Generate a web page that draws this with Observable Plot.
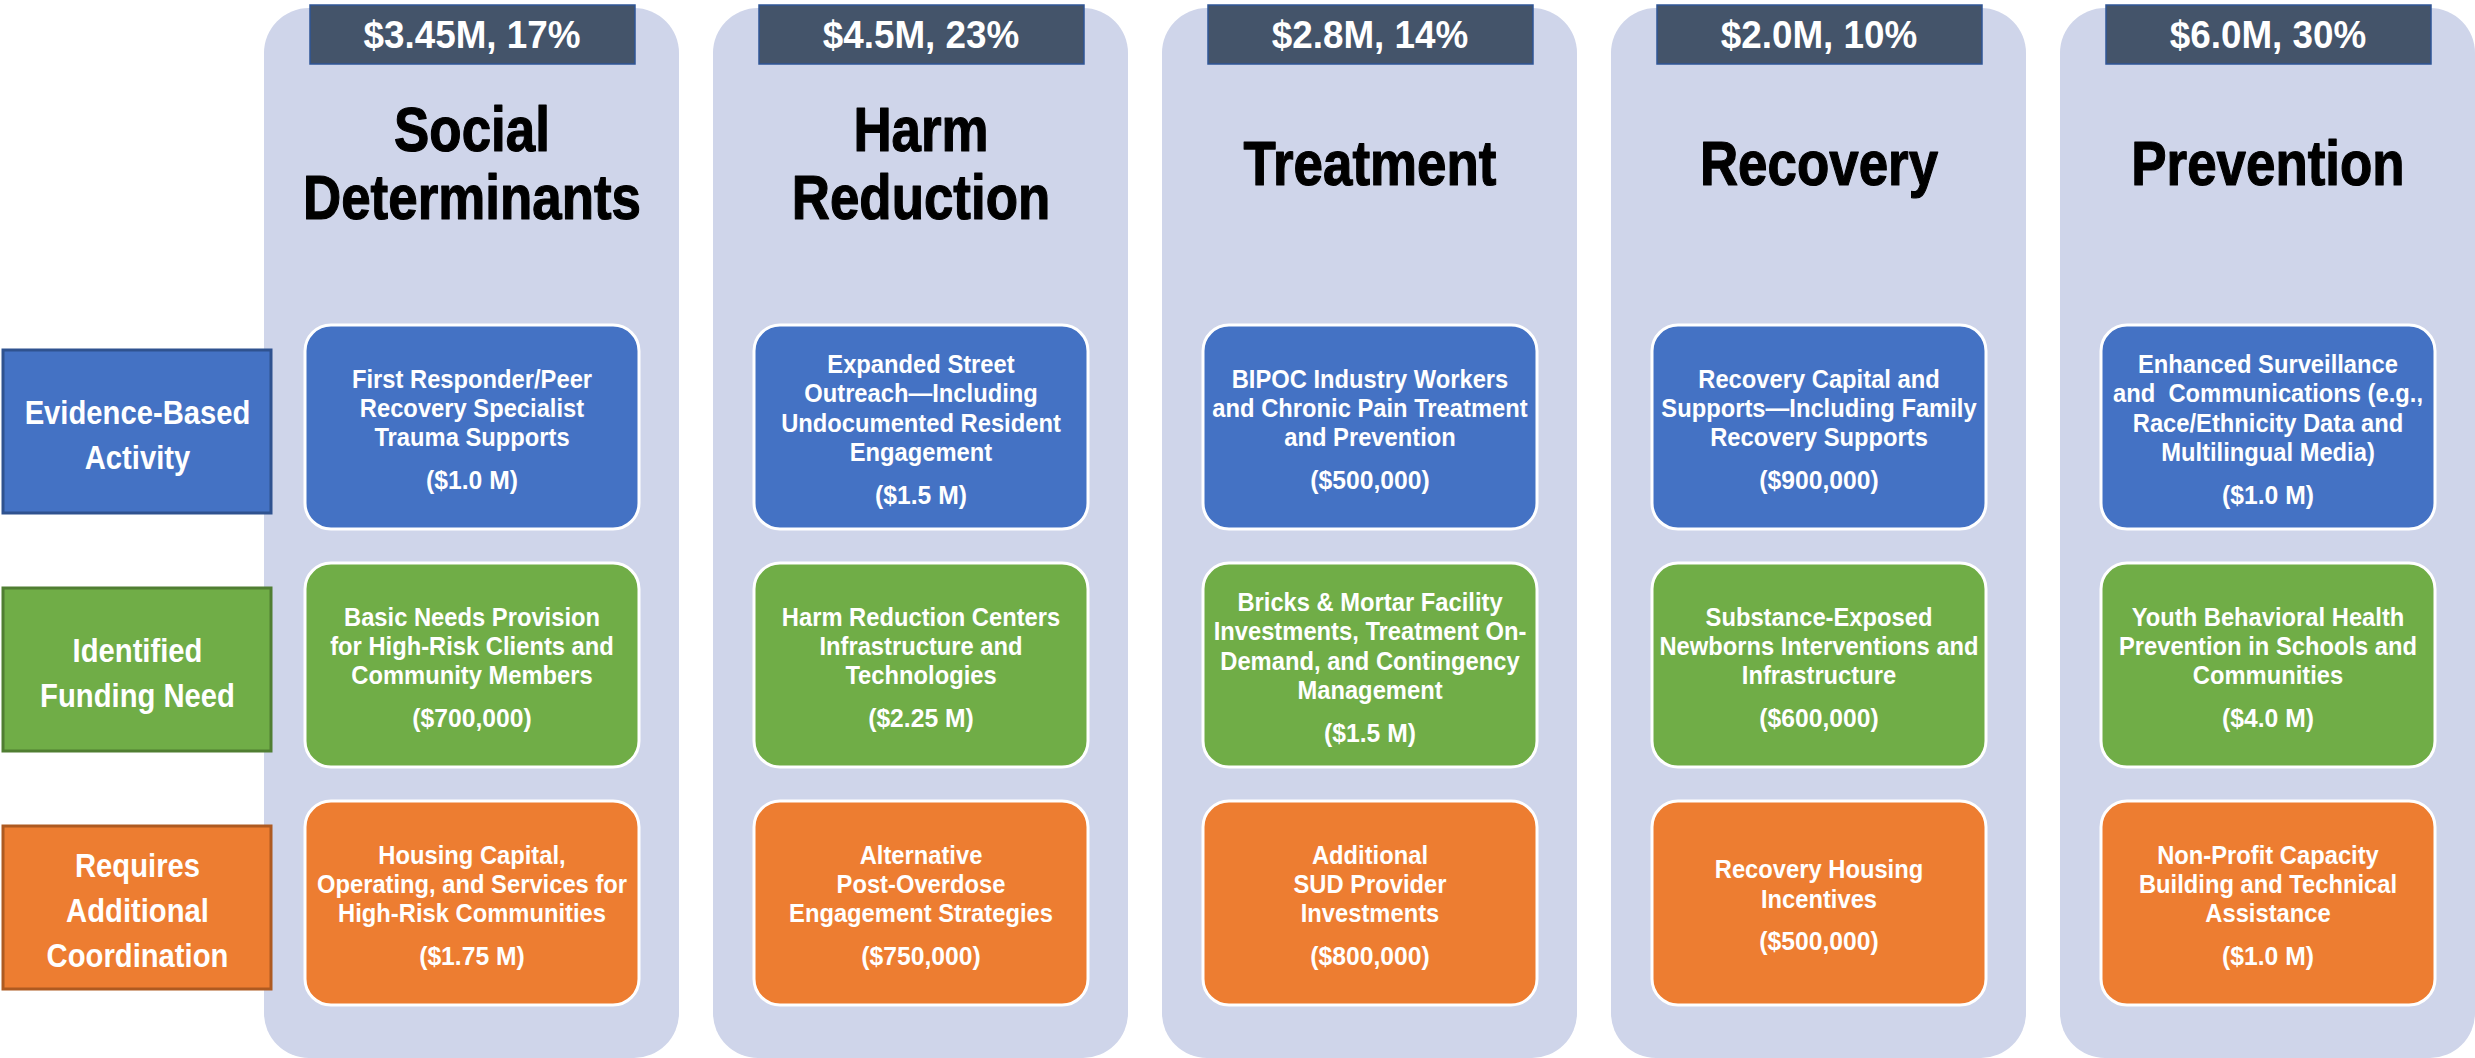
<!DOCTYPE html>
<html><head><meta charset="utf-8">
<script src="https://cdn.jsdelivr.net/npm/d3@7"></script>
<script src="https://cdn.jsdelivr.net/npm/@observablehq/plot@0.6"></script>
<style>
html,body{margin:0;padding:0;background:#fff;overflow:hidden;}
#chart{position:relative;width:2475px;height:1058px;}
#chart svg{position:absolute;top:0;left:0;max-width:none;}
</style></head><body><div id="chart"></div>
<script>
// ---- data ----
const categories = ["Social Determinants", "Harm Reduction", "Treatment", "Recovery", "Prevention"];
const titleLines = ["Social\nDeterminants", "Harm\nReduction", "Treatment", "Recovery", "Prevention"];
const headerLabels = ["$3.45M, 17%", "$4.5M, 23%", "$2.8M, 14%", "$2.0M, 10%", "$6.0M, 30%"];
const rows = ["Evidence-Based Activity", "Identified Funding Need", "Requires Additional Coordination"];
const rowLabels = ["Evidence-Based\nActivity", "Identified\nFunding Need", "Requires\nAdditional\nCoordination"];
const rowFills = ["#4472C4", "#70AD47", "#ED7D31"];
const rowBorders = ["#2F528F", "#507E32", "#AE5A21"];

const evidenceActivities = [
  "First Responder/Peer\nRecovery Specialist\nTrauma Supports",
  "Expanded Street\nOutreach\u2014Including\nUndocumented Resident\nEngagement",
  "BIPOC Industry Workers\nand Chronic Pain Treatment\nand Prevention",
  "Recovery Capital and\nSupports\u2014Including Family\nRecovery Supports",
  "Enhanced Surveillance\nand  Communications (e.g.,\nRace/Ethnicity Data and\nMultilingual Media)"
];
const evidenceAmounts = ["($1.0 M)", "($1.5 M)", "($500,000)", "($900,000)", "($1.0 M)"];
const fundingActivities = [
  "Basic Needs Provision\nfor High-Risk Clients and\nCommunity Members",
  "Harm Reduction Centers\nInfrastructure and\nTechnologies",
  "Bricks & Mortar Facility\nInvestments, Treatment On-\nDemand, and Contingency\nManagement",
  "Substance-Exposed\nNewborns Interventions and\nInfrastructure",
  "Youth Behavioral Health\nPrevention in Schools and\nCommunities"
];
const fundingAmounts = ["($700,000)", "($2.25 M)", "($1.5 M)", "($600,000)", "($4.0 M)"];
const coordinationActivities = [
  "Housing Capital,\nOperating, and Services for\nHigh-Risk Communities",
  "Alternative\nPost-Overdose\nEngagement Strategies",
  "Additional\nSUD Provider\nInvestments",
  "Recovery Housing\nIncentives",
  "Non-Profit Capacity\nBuilding and Technical\nAssistance"
];
const coordinationAmounts = ["($1.75 M)", "($750,000)", "($800,000)", "($500,000)", "($1.0 M)"];

// ---- build table ----
const rowTexts = [evidenceActivities, fundingActivities, coordinationActivities];
const rowAmounts = [evidenceAmounts, fundingAmounts, coordinationAmounts];
const items = rows.flatMap((r, j) => categories.map((c, i) => ({
  category: c, row: r, desc: rowTexts[j][i], amount: rowAmounts[j][i],
  lines: rowTexts[j][i].split("\n").length
})));

// ---- layout ----
const W = 2475, H = 1058;
const SANS = "'Liberation Sans',Arial,sans-serif";
const cardFont = 25, cardLH = 1.172, gap = 43.5, shift = 2;

const yScale = {type: "band", domain: rows, range: [324, 1005], paddingInner: 0.143, paddingOuter: 0, axis: null};
const colorScale = {domain: rows, range: rowFills};

const lineCounts = Array.from(new Set(items.map(d => d.lines)));

const main = Plot.plot({
  width: W, height: H,
  marginTop: 0, marginBottom: 0, marginLeft: 0, marginRight: 0,
  x: {type: "band", domain: categories, range: [263, W], paddingInner: 0.076, paddingOuter: 0, axis: null},
  y: yScale,
  color: colorScale,
  style: {background: "transparent", fontFamily: SANS},
  marks: [
    Plot.cell(categories, {x: d => d, fill: "#CFD5EA", rx: 45, insetTop: 8}),
    Plot.cell(categories, {x: d => d, fill: "#44546A", stroke: "#2F5597", strokeWidth: 1.5,
      insetLeft: 46, insetRight: 44, insetTop: 5, insetBottom: H - 64}),
    Plot.text(categories, {x: d => d, text: (d, i) => headerLabels[i], frameAnchor: "top", dy: 35,
      lineAnchor: "middle", fill: "white", fontSize: 38, fontWeight: "bold", fontFamily: SANS}),
    Plot.text(categories, {x: d => d, text: (d, i) => titleLines[i], frameAnchor: "top", dy: 163,
      lineAnchor: "middle", lineHeight: 1.08, fill: "#000", stroke: "#000", strokeWidth: 1.2,
      fontSize: 63, fontWeight: "bold", fontFamily: SANS}),
    Plot.cell(items, {x: "category", y: "row", fill: "row", stroke: "white", strokeWidth: 3, rx: 26,
      insetLeft: 41, insetRight: 40}),
    Plot.text(items, {x: "category", y: "row", text: "desc", dy: shift - gap / 2, lineAnchor: "middle",
      lineHeight: cardLH, fill: "white", fontSize: cardFont, fontWeight: "bold", fontFamily: SANS}),
    ...lineCounts.map(n => Plot.text(items.filter(d => d.lines === n), {
      x: "category", y: "row", text: "amount", lineAnchor: "middle",
      dy: shift + (n - 1) * cardFont * cardLH / 2 + gap / 2,
      fill: "white", fontSize: cardFont + 1, fontWeight: "bold", fontFamily: SANS}))
  ]
});

const labels = Plot.plot({
  width: 280, height: H,
  marginTop: 0, marginBottom: 0, marginLeft: 0, marginRight: 0,
  x: {type: "band", domain: ["label"], range: [3, 271], padding: 0, axis: null},
  y: yScale,
  color: colorScale,
  style: {background: "transparent", overflow: "visible"},
  marks: [
    ...rows.map((r, i) => Plot.cell([r], {x: () => "label", y: d => d, fill: d => d,
      stroke: rowBorders[i], strokeWidth: 3, insetTop: 25, insetBottom: 16})),
    Plot.text(rows, {x: () => "label", y: d => d, text: (d, i) => rowLabels[i], dy: 4.5,
      lineAnchor: "middle", lineHeight: 1.32, fill: "white", fontSize: 34, fontWeight: "bold", fontFamily: SANS})
  ]
});

// condensed look: horizontally squeeze the text of a given text mark
function condense(svg, markIndex, sx) {
  const groups = svg.querySelectorAll("g[aria-label='text']");
  const g = groups[markIndex];
  if (!g) return;
  g.querySelectorAll("text").forEach(t => {
    const tr = t.getAttribute("transform") || "";
    t.setAttribute("transform", tr + ` scale(${sx},1)`);
  });
}
const nText = main.querySelectorAll("g[aria-label='text']").length;
condense(main, 0, 0.97);  // headers
condense(main, 1, 0.84);  // titles
for (let k = 2; k < nText; k++) condense(main, k, 0.95); // card texts
condense(labels, 0, 0.86); // row labels

const el = document.getElementById("chart");
el.appendChild(main);
el.appendChild(labels);
</script>
</body></html>
